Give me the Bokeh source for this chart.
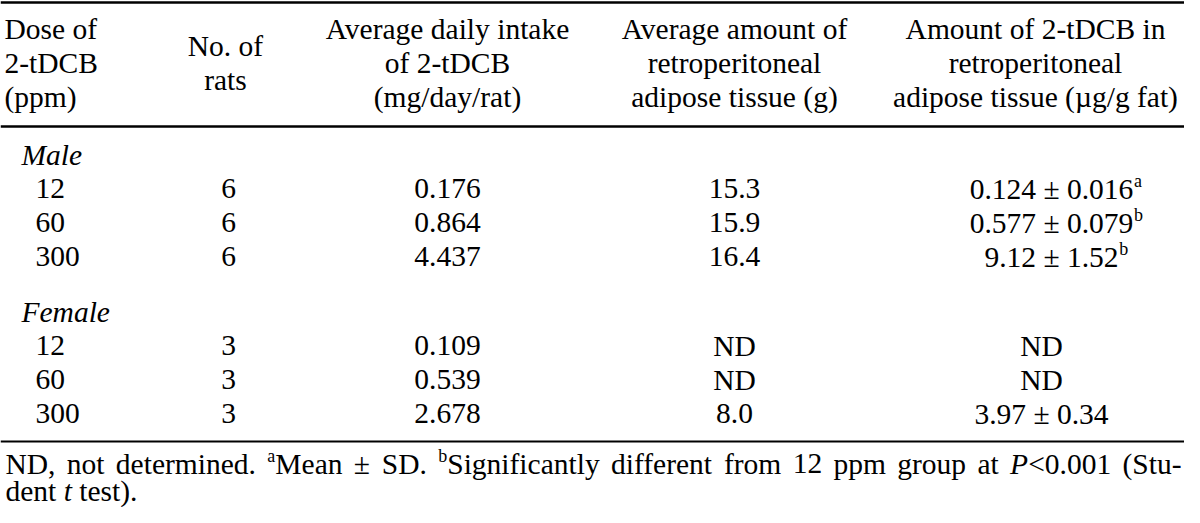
from bokeh.plotting import figure
from bokeh.models import Range1d, ColumnDataSource
from bokeh.core.properties import value
from bokeh.embed import file_html
from bokeh.resources import INLINE

# ---------------- data ----------------
header_dose = ["Dose of", "2-tDCB", "(ppm)"]
header_rats = ["No. of", "rats"]
header_intake = ["Average daily intake", "of 2-tDCB", "(mg/day/rat)"]
header_adipose = ["Average amount of", "retroperitoneal", "adipose tissue (g)"]
header_amount = ["Amount of 2-tDCB in", "retroperitoneal", "adipose tissue (µg/g fat)"]

groups = ["Male", "Female"]
doses = ["12", "60", "300"]
male_rats = ["6", "6", "6"]
female_rats = ["3", "3", "3"]
male_intake = ["0.176", "0.864", "4.437"]
female_intake = ["0.109", "0.539", "2.678"]
male_adipose = ["15.3", "15.9", "16.4"]
female_adipose = ["ND", "ND", "8.0"]
male_amount = ["0.124 ± 0.016", "0.577 ± 0.079", "9.12 ± 1.52"]
male_sup = ["a", "b", "b"]
female_amount = ["ND", "ND", "3.97 ± 0.34"]
female_sup = ["", "", ""]

foot_line1 = [("ND, not determined. ", "n"), ("a", "s"), ("Mean ± SD. ", "n"), ("b", "s"),
              ("Significantly different from 12 ppm group at ", "n"), ("P", "i"),
              ("<0.001 (Stu-", "n")]
foot_line2 = [("dent ", "n"), ("t", "i"), (" test).", "n")]

# ---------------- layout ----------------
FONT = "Liberation Serif"
FS = 29.5
SUP_FS = 18.0
W_PX, H_PX = 1184, 507
X_MIN, X_MAX = 0.0, 1184.0
Y_MAX = 507.0
PX = (X_MAX - X_MIN) / W_PX  # reference units per screen px

LINE_H = 34.0
HEAD_Y0 = 28.0
RULES = [(1.5, 2.5), (126.0, 2.5), (441.0, 2.0)]
GROUP_Y = [154.0, 311.0]
FOOT_Y = [463.0, 490.0]
SUP_RISE = 8.0

X_DOSE_HEAD = 4.0
X_GROUP = 21.0
X_DOSE = 35.0
CX_RATS_HEAD = 225.0
CX_RATS = 228.0
CX_INTAKE = 447.0
CX_ADIPOSE = 734.0
CX_AMOUNT_HEAD = 1035.0
CX_AMOUNT = 1041.0
SUP_SHIFT = 10.0
FOOT_X0 = 5.0
FOOT_X1 = 1181.0

ROMAN = {" ": .25, "!": .333, "(": .333, ")": .333, "+": .564, ",": .25, "-": .333, ".": .25,
         "/": .278, ":": .278, ";": .278, "<": .564, "=": .564, ">": .564, "±": .564, "µ": .5,
         "A": .722, "B": .667, "C": .667, "D": .722, "E": .611, "F": .556, "G": .722, "H": .722,
         "I": .333, "J": .389, "K": .722, "L": .611, "M": .889, "N": .722, "O": .722, "P": .556,
         "Q": .722, "R": .667, "S": .556, "T": .611, "U": .722, "V": .722, "W": .944, "X": .722,
         "Y": .722, "Z": .611,
         "a": .444, "b": .5, "c": .444, "d": .5, "e": .444, "f": .333, "g": .5, "h": .5, "i": .278,
         "j": .278, "k": .5, "l": .278, "m": .778, "n": .5, "o": .5, "p": .5, "q": .5, "r": .333,
         "s": .389, "t": .278, "u": .5, "v": .5, "w": .722, "x": .5, "y": .5, "z": .444}
for d in "0123456789":
    ROMAN[d] = .5
ITALIC = {"P": .611, "t": .278}


def tw(s, style="n"):
    table = ITALIC if style == "i" else ROMAN
    size = SUP_FS if style == "s" else FS
    return sum(table.get(ch, ROMAN.get(ch, .5)) for ch in s) * size * PX


buckets = {k: {"x": [], "y": [], "text": []} for k in ("n", "i", "s", "nc")}


def put(kind, x, y, t):
    buckets[kind]["x"].append(x)
    buckets[kind]["y"].append(y)
    buckets[kind]["text"].append(t)


def layout_line(segments, x0, y, justify_to=None):
    items = []  # ("w", text, style) or ("sp",)
    for text, style in segments:
        cur = ""
        for ch in text:
            if ch == " ":
                if cur:
                    items.append(("w", cur, style))
                    cur = ""
                items.append(("sp",))
            else:
                cur += ch
        if cur:
            items.append(("w", cur, style))
    while items and items[-1][0] == "sp":
        items.pop()
    natural = sum(tw(it[1], it[2]) if it[0] == "w" else tw(" ") for it in items)
    n_sp = sum(1 for it in items if it[0] == "sp")
    extra = 0.0
    if justify_to is not None and n_sp:
        extra = max(0.0, (justify_to - x0 - natural) / n_sp)
    cx = x0
    for it in items:
        if it[0] == "sp":
            cx += tw(" ") + extra
        else:
            _, t, style = it
            yy = y - SUP_RISE if style == "s" else y
            put(style, cx, yy, t)
            cx += tw(t, style)


# header
for i, t in enumerate(header_dose):
    put("n", X_DOSE_HEAD, HEAD_Y0 + i * LINE_H, t)
for i, t in enumerate(header_rats):
    put("nc", CX_RATS_HEAD, HEAD_Y0 + LINE_H / 2 + i * LINE_H, t)
for i, t in enumerate(header_intake):
    put("nc", CX_INTAKE, HEAD_Y0 + i * LINE_H, t)
for i, t in enumerate(header_adipose):
    put("nc", CX_ADIPOSE, HEAD_Y0 + i * LINE_H, t)
for i, t in enumerate(header_amount):
    put("nc", CX_AMOUNT_HEAD, HEAD_Y0 + i * LINE_H, t)

# body
body = [(male_rats, male_intake, male_adipose, male_amount, male_sup),
        (female_rats, female_intake, female_adipose, female_amount, female_sup)]
for g, (gname, cols) in enumerate(zip(groups, body)):
    gy = GROUP_Y[g]
    put("i", X_GROUP, gy, gname)
    rats, intake, adip, amount, sup = cols
    for r, dose in enumerate(doses):
        y = gy + (r + 1) * LINE_H
        put("n", X_DOSE, y, dose)
        put("nc", CX_RATS, y, rats[r])
        put("nc", CX_INTAKE, y, intake[r])
        put("nc", CX_ADIPOSE, y, adip[r])
        cx = CX_AMOUNT + (SUP_SHIFT if sup[r] else 0.0)
        put("nc", cx, y, amount[r])
        if sup[r]:
            put("s", cx + tw(amount[r]) / 2 + 0.5, y - SUP_RISE, sup[r])

# footnote
layout_line(foot_line1, FOOT_X0, FOOT_Y[0], justify_to=FOOT_X1)
layout_line(foot_line2, FOOT_X0, FOOT_Y[1])

# ---------------- figure ----------------
p = figure(width=W_PX, height=H_PX, x_range=Range1d(X_MIN, X_MAX), y_range=Range1d(Y_MAX, 0),
           output_backend="svg", toolbar_location=None, min_border=0)
p.axis.visible = False
p.grid.visible = False
p.outline_line_color = None
p.background_fill_color = "white"
p.border_fill_color = "white"

for y, w in RULES:
    p.hspan(y=[y], line_width=w, line_color="black")

styles = {
    "n": dict(text_align="left", text_font_style="normal", size=FS),
    "nc": dict(text_align="center", text_font_style="normal", size=FS),
    "i": dict(text_align="left", text_font_style="italic", size=FS),
    "s": dict(text_align="left", text_font_style="normal", size=SUP_FS),
}
for k, st in styles.items():
    if not buckets[k]["x"]:
        continue
    p.text(x="x", y="y", text="text", source=ColumnDataSource(buckets[k]),
           text_font=value(FONT), text_font_size=f"{st['size']}px",
           text_font_style=st["text_font_style"], text_align=st["text_align"],
           text_baseline="middle", text_color="black")

open("out.html", "w").write(file_html(p, INLINE))
